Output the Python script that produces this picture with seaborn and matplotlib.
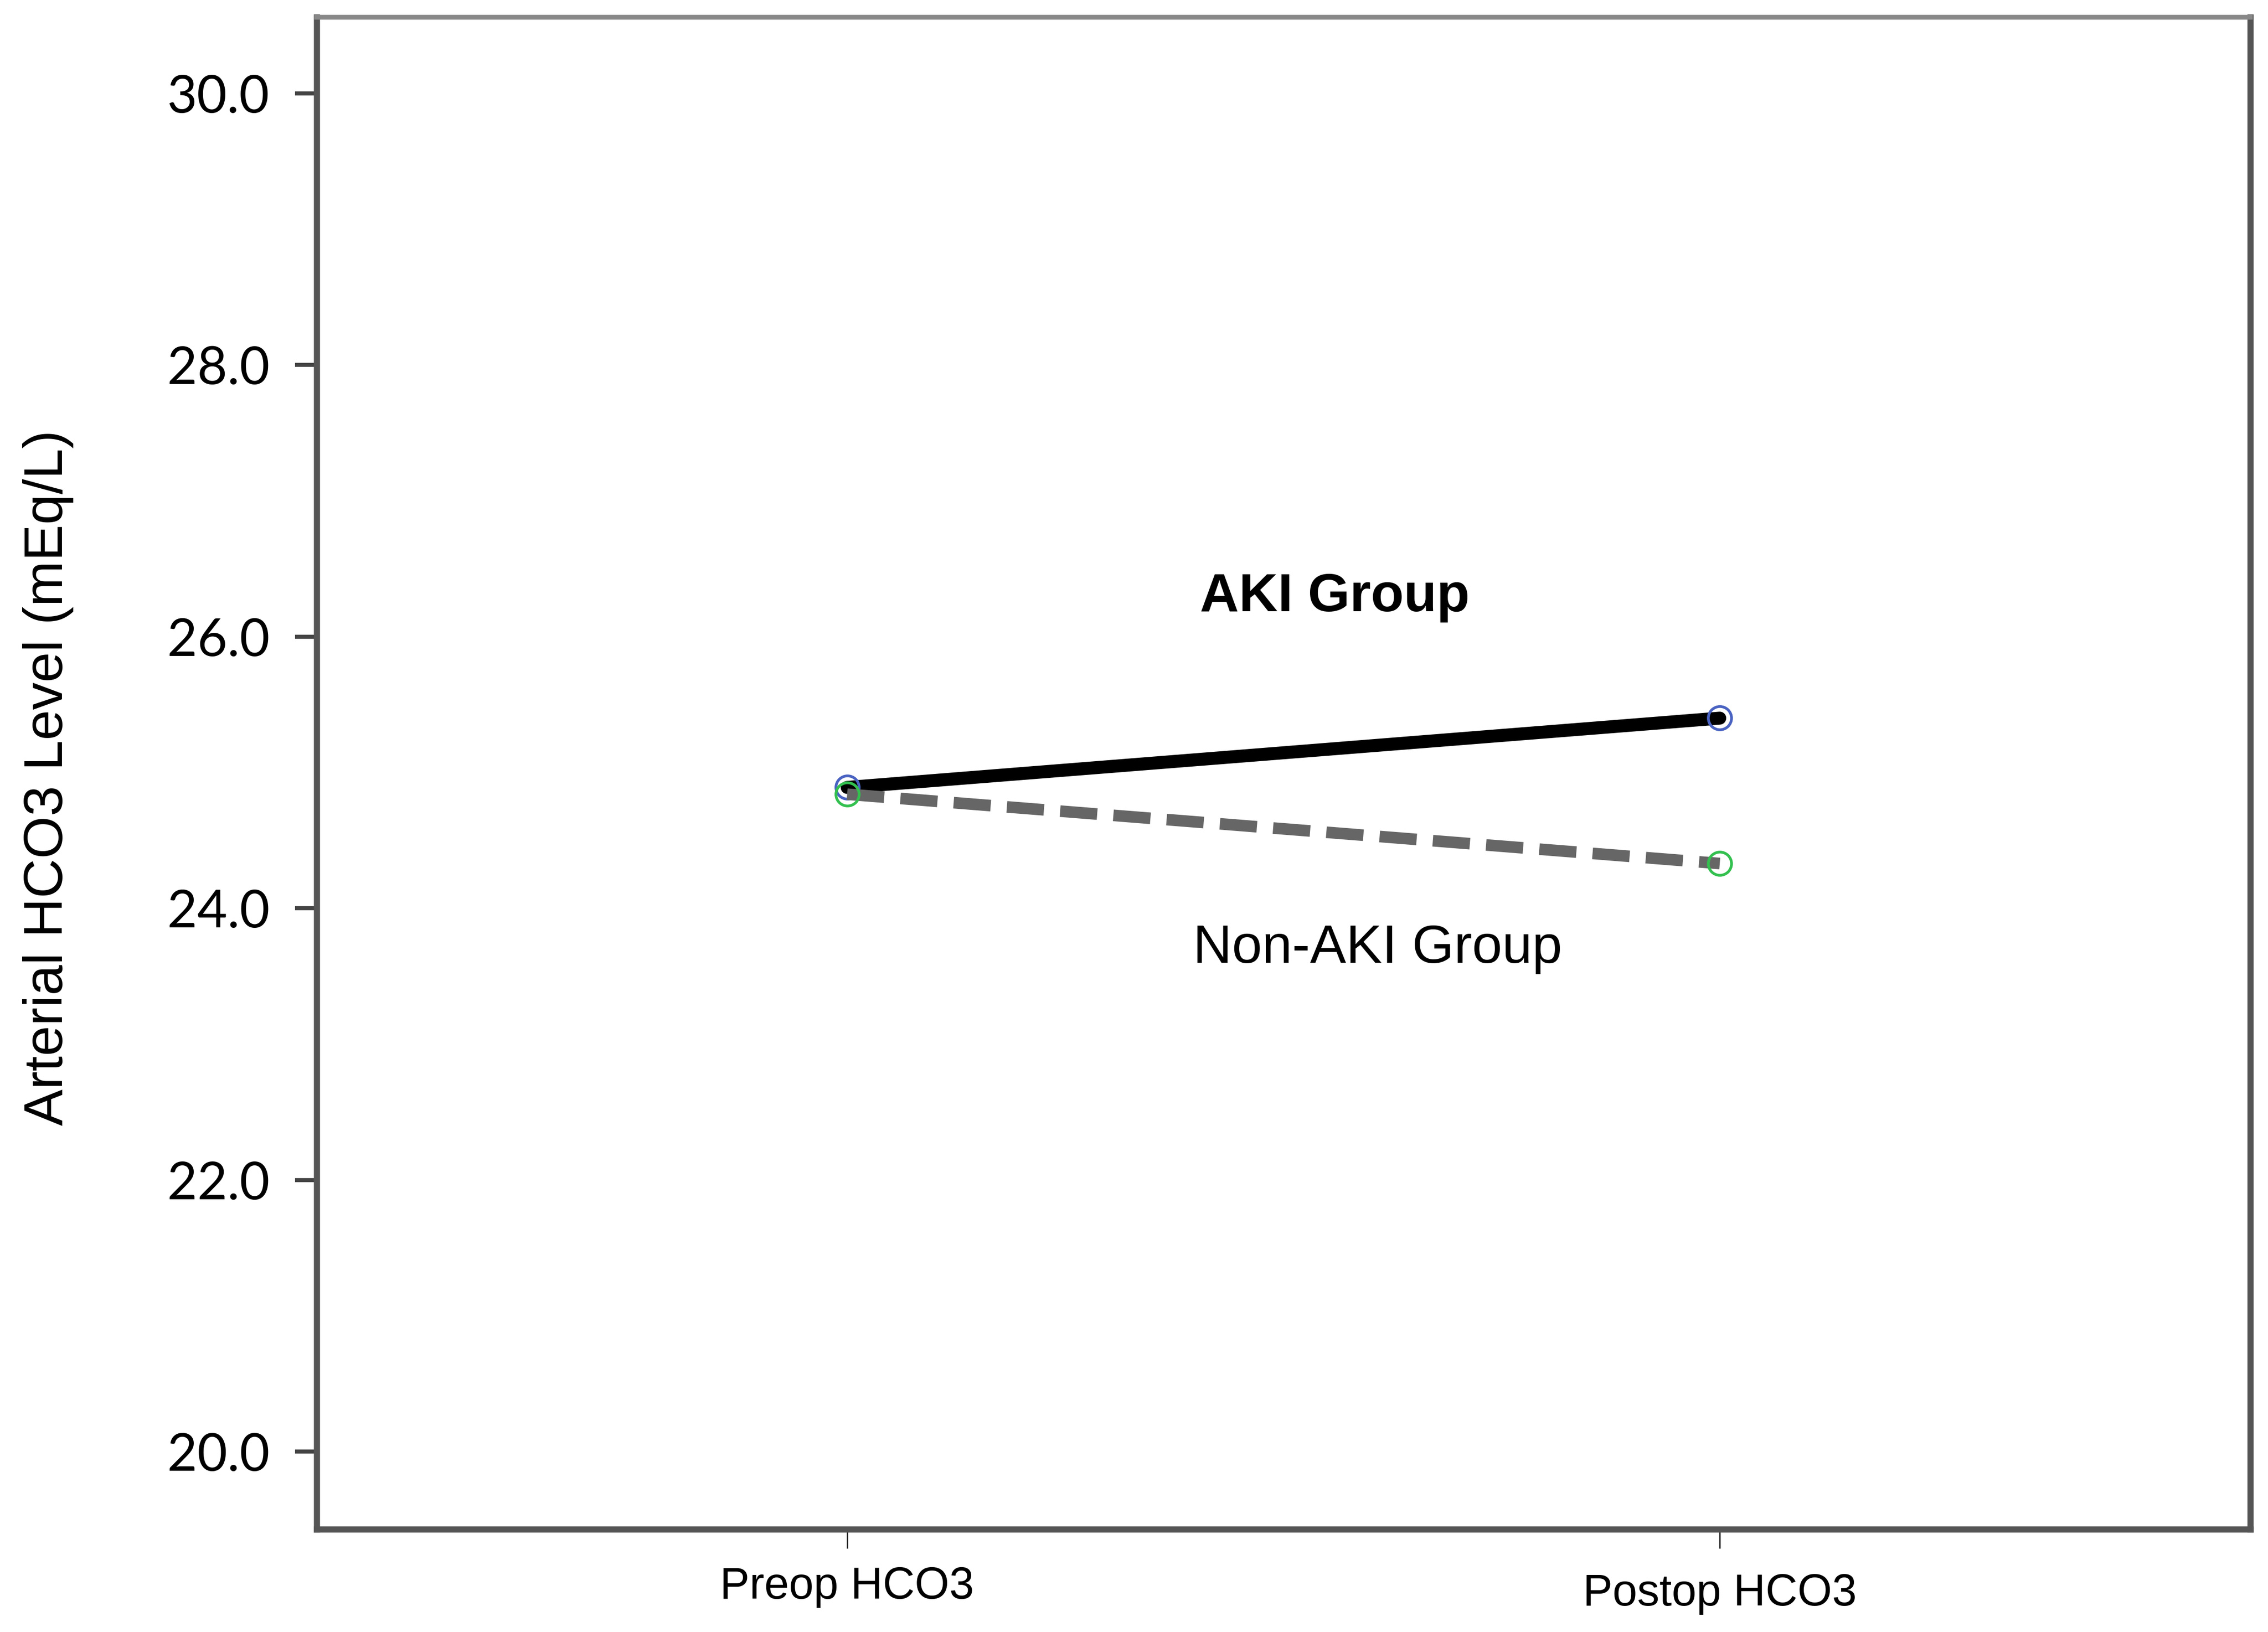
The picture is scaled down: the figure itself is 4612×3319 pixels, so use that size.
import pandas as pd
import matplotlib
matplotlib.use("Agg")
import matplotlib.pyplot as plt
import seaborn as sns

# values
timepoints = ["Preop HCO3", "Postop HCO3"]
aki_hco3 = [24.89, 25.40]
non_aki_hco3 = [24.84, 24.33]
y_ticks = [20.0, 22.0, 24.0, 26.0, 28.0, 30.0]

df = pd.DataFrame({
    "time": timepoints * 2,
    "hco3": aki_hco3 + non_aki_hco3,
    "group": ["AKI"] * 2 + ["Non-AKI"] * 2,
})

sns.set_style("white")
plt.rcParams["font.family"] = ["Liberation Sans", "DejaVu Sans"]
plt.rcParams["text.color"] = "black"
plt.rcParams["axes.labelcolor"] = "black"
plt.rcParams["xtick.labelcolor"] = "black"
plt.rcParams["ytick.labelcolor"] = "black"

fig, ax = plt.subplots(figsize=(46.12, 33.19), dpi=100)
fig.subplots_adjust(left=0.1396, right=0.9922, top=0.9895, bottom=0.063)

# AKI group: solid black line, blue ring markers
sns.lineplot(data=df[df["group"] == "AKI"], x="time", y="hco3", color="black",
             linewidth=19, marker="o", markersize=34, markerfacecolor="none",
             markeredgecolor="#4a63c2", markeredgewidth=4, ax=ax)
# Non-AKI group: dashed grey line, green ring markers
sns.lineplot(data=df[df["group"] == "Non-AKI"], x="time", y="hco3", color="#666666",
             linewidth=17, linestyle=(0, (3.2, 1.4)), marker="o", markersize=34,
             markerfacecolor="none", markeredgecolor="#33c04f", markeredgewidth=4, ax=ax)

ax.set_xlim(-0.608, 1.608)
ax.set_ylim(19.43, 30.56)
ax.set_yticks(y_ticks)
ax.set_yticklabels([f"{v:.1f}" for v in y_ticks], fontfamily="Lato", fontsize=76)
ax.set_xticks(range(len(timepoints)))
ax.set_xticklabels(timepoints, fontsize=65)

ax.set_xlabel("")
ax.set_ylabel("Arterial HCO3 Level (mEq/L)", fontsize=80)
ax.yaxis.set_label_coords(-0.1256, 0.497)

ax.tick_params(axis="y", direction="out", length=32, width=6, color="#444444", pad=37, left=True)
ax.tick_params(axis="x", direction="out", length=28, width=2, color="#222222", pad=26, bottom=True)
# the Postop tick sits a little longer and its label lower in the reference
post_tick = ax.xaxis.get_major_ticks()[1]
post_tick.tick1line.set_markersize(36)
post_tick.set_pad(36)

for side in ["left", "bottom", "right"]:
    ax.spines[side].set_color("#555555")
    ax.spines[side].set_linewidth(9)
ax.spines["top"].set_color("#888888")
ax.spines["top"].set_linewidth(7)

ax.text(0.559, 26.29, "AKI Group", fontsize=79, fontweight="bold", ha="center", va="center")
ax.text(0.608, 23.70, "Non-AKI Group", fontsize=79, ha="center", va="center")

plt.savefig("out.png", dpi=100)
plt.close()
